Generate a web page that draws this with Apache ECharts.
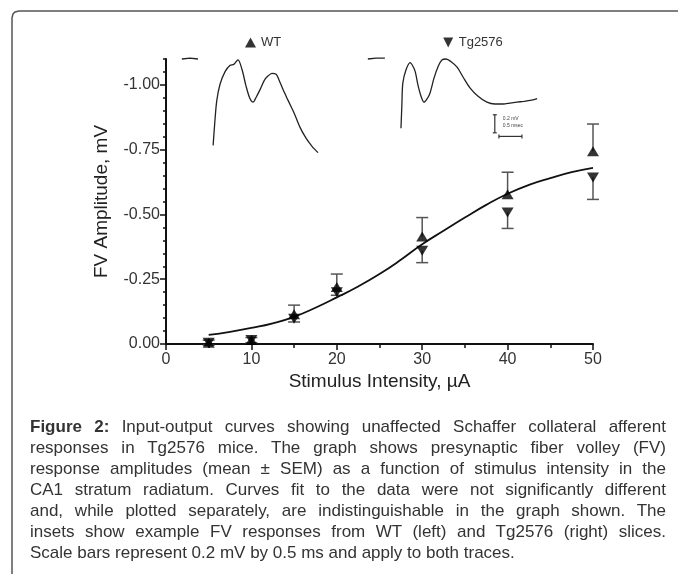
<!DOCTYPE html>
<html>
<head>
<meta charset="utf-8">
<script src="https://cdn.jsdelivr.net/npm/echarts@6/dist/echarts.min.js"></script>
<style>
  body { margin: 0; background: #fff; }
  #wrap { position: relative; width: 678px; height: 574px; overflow: hidden; }
  #fv { position: absolute; left: 0; top: 0; width: 678px; height: 574px; }
  #caption {
    position: absolute; left: 30px; top: 416px; width: 636px;
    font-family: "Liberation Sans", Arial, sans-serif; font-size: 17px;
    line-height: 21px; color: #333;
  }
  #caption div { text-align: justify; text-align-last: justify; white-space: nowrap; }
  #caption div.last { text-align-last: left; }
</style>
</head>
<body>
<div id="wrap">
  <div id="fv"></div>
  <div id="caption">
    <div><b>Figure 2:</b> Input-output curves showing unaffected Schaffer collateral afferent</div>
    <div>responses in Tg2576 mice. The graph shows presynaptic fiber volley (FV)</div>
    <div>response amplitudes (mean ± SEM) as a function of stimulus intensity in the</div>
    <div>CA1 stratum radiatum. Curves fit to the data were not significantly different</div>
    <div>and, while plotted separately, are indistinguishable in the graph shown. The</div>
    <div>insets show example FV responses from WT (left) and Tg2576 (right) slices.</div>
    <div class="last">Scale bars represent 0.2 mV by 0.5 ms and apply to both traces.</div>
  </div>
</div>
<script>
// stimulus intensities (uA)
var intensity = [5, 10, 15, 20, 30, 40, 50];
// FV amplitude mean and SEM (mV)
var wtMean = [-0.005, -0.015, -0.115, -0.22, -0.415, -0.578, -0.744];
var wtSem  = [0.01, 0.01, 0.035, 0.05, 0.073, 0.085, 0.105];
var tgMean = [-0.005, -0.015, -0.097, -0.20, -0.36, -0.508, -0.643];
var tgSem  = [0.01, 0.01, 0.012, 0.012, 0.046, 0.062, 0.085];

// fitted curve
var fitX = [5, 7.5, 10, 12.5, 15, 17.5, 20, 22.5, 25, 27.5, 30, 32.5, 35, 37.5, 40, 42.5, 45, 47.5, 50];
var fitY = [-0.035, -0.047, -0.062, -0.08, -0.105, -0.14, -0.18, -0.222, -0.27, -0.325, -0.385, -0.437, -0.488, -0.537, -0.58, -0.614, -0.64, -0.663, -0.68];

// axis ranges / ticks
var xRange = [0, 50, 10];          // min, max, step
var yRange = [-1.1, 0, 0.05];      // full axis, minor step
var yLabelRange = [-1.0, 0, 0.25]; // labelled part, major step

// inset traces: time (ms), voltage (mV)
var wtBaseT = [0.04, 0.22, 0.39];
var wtBaseV = [-0.10, -0.09, -0.10];
var wtTraceT = [0.72, 0.76, 0.80, 0.87, 0.98, 1.09, 1.17, 1.26, 1.35, 1.43, 1.52, 1.59, 1.65, 1.74, 1.83, 1.91, 2.00, 2.09, 2.15, 2.24, 2.35, 2.48, 2.61, 2.74, 2.87, 3.00];
var wtTraceV = [-1.06, -0.78, -0.56, -0.38, -0.24, -0.17, -0.16, -0.11, -0.22, -0.39, -0.54, -0.58, -0.53, -0.44, -0.34, -0.29, -0.26, -0.27, -0.33, -0.44, -0.56, -0.70, -0.86, -0.98, -1.07, -1.14];
var tgBaseT = [0.04, 0.22, 0.41];
var tgBaseV = [-0.10, -0.09, -0.09];
var tgTraceT = [0.76, 0.78, 0.80, 0.87, 0.96, 1.02, 1.07, 1.13, 1.20, 1.26, 1.33, 1.39, 1.48, 1.57, 1.65, 1.74, 1.85, 1.98, 2.11, 2.26, 2.43, 2.63, 2.80, 2.98, 3.13, 3.28, 3.43, 3.57, 3.72];
var tgTraceV = [-0.87, -0.61, -0.37, -0.22, -0.14, -0.18, -0.24, -0.39, -0.52, -0.58, -0.54, -0.48, -0.31, -0.18, -0.11, -0.10, -0.13, -0.19, -0.30, -0.42, -0.51, -0.58, -0.60, -0.60, -0.59, -0.58, -0.57, -0.56, -0.54];

// scale bar: 0.2 mV by 0.5 ms
var scaleMv = 0.2;
var scaleMs = 0.5;
var scaleAt = [2.8, -0.72];

var FONT = '"Liberation Sans", Arial, sans-serif';

function pairs(a, b) { return a.map(function (v, i) { return [v, b[i]]; }); }

function errItem(params, api) {
  var x = api.value(0), y = api.value(1), e = api.value(2);
  var p0 = api.coord([x, y]), p1 = api.coord([x, e]);
  var st = { stroke: '#555', lineWidth: 1.5 };
  return { type: 'group', children: [
    { type: 'line', shape: { x1: p0[0], y1: p0[1], x2: p1[0], y2: p1[1] }, style: st },
    { type: 'line', shape: { x1: p1[0] - 6, y1: p1[1], x2: p1[0] + 6, y2: p1[1] }, style: st }
  ]};
}

function scaleItem(params, api) {
  var t = api.value(0), v = api.value(1);
  var a = api.coord([t, v]), b = api.coord([t, v - scaleMv]);
  var h0 = api.coord([t + 0.09, v - scaleMv - 0.04]), h1 = api.coord([t + 0.09 + scaleMs, v - scaleMv - 0.04]);
  var st = { stroke: '#333', lineWidth: 1.2 };
  return { type: 'group', children: [
    { type: 'line', shape: { x1: a[0], y1: a[1], x2: b[0], y2: b[1] }, style: st },
    { type: 'line', shape: { x1: a[0] - 2, y1: a[1], x2: a[0] + 2, y2: a[1] }, style: st },
    { type: 'line', shape: { x1: b[0] - 2, y1: b[1], x2: b[0] + 2, y2: b[1] }, style: st },
    { type: 'line', shape: { x1: h0[0], y1: h0[1], x2: h1[0], y2: h1[1] }, style: st },
    { type: 'line', shape: { x1: h0[0], y1: h0[1] - 2, x2: h0[0], y2: h0[1] + 2 }, style: st },
    { type: 'line', shape: { x1: h1[0], y1: h1[1] - 2, x2: h1[0], y2: h1[1] + 2 }, style: st },
    { type: 'text', style: { x: a[0] + 8, y: a[1] + 1, text: scaleMv + ' mV', fontSize: 5, fill: '#444', fontFamily: FONT } },
    { type: 'text', style: { x: a[0] + 8, y: a[1] + 8, text: scaleMs + ' msec', fontSize: 5, fill: '#444', fontFamily: FONT } }
  ]};
}

var chart = echarts.init(document.getElementById('fv'));

function hidden(grid, min, max) {
  return { gridIndex: grid, type: 'value', min: min, max: max, show: false, splitLine: { show: false } };
}

// main plot box: x 166..593, y 59..344 ; labelled y part starts at -1.0
var plotTop = 59, plotH = 285;
var labTop = plotTop + plotH * (yRange[0] - yLabelRange[0]) / yRange[0];

chart.setOption({
  animation: false,
  textStyle: { fontFamily: FONT },
  graphic: [{
    type: 'polyline',
    shape: { points: [[12, 574], [12, 18], [13, 14], [15, 12], [19, 11], [678, 11]] },
    style: { fill: null, stroke: '#555', lineWidth: 1.5 }
  }],
  legend: {
    left: 240, top: 31, itemWidth: 11, itemHeight: 10, itemGap: 162,
    textStyle: { fontSize: 13, color: '#333', fontFamily: FONT },
    data: [
      { name: 'WT', icon: 'triangle' },
      { name: 'Tg2576', icon: 'path://M0,0 L10,0 L5,10 Z' }
    ]
  },
  grid: [
    { left: 166, top: plotTop, width: 427, height: plotH },
    { left: 166, top: labTop, width: 427, height: plotTop + plotH - labTop },
    { left: 180, top: 50, width: 184, height: 108 },
    { left: 366, top: 50, width: 184, height: 108 }
  ],
  xAxis: [
    {
      gridIndex: 0, type: 'value', min: xRange[0], max: xRange[1], interval: xRange[2],
      name: 'Stimulus Intensity, \u00b5A', nameLocation: 'middle', nameGap: 28,
      nameTextStyle: { fontSize: 19, color: '#222' },
      axisLine: { lineStyle: { color: '#111', width: 2 } },
      axisTick: { length: 6, lineStyle: { color: '#111', width: 1.5 } },
      minorTick: { show: true, splitNumber: 2, length: 4, lineStyle: { color: '#111', width: 1.5 } },
      axisLabel: { fontSize: 16, color: '#333', margin: 8 },
      splitLine: { show: false }
    },
    hidden(1, xRange[0], xRange[1]),
    hidden(2, 0, 4),
    hidden(3, 0, 4)
  ],
  yAxis: [
    {
      gridIndex: 0, type: 'value', min: yRange[0], max: yRange[1], interval: yRange[2], inverse: true,
      name: 'FV Amplitude, mV', nameLocation: 'middle', nameGap: 55, nameRotate: 90,
      nameTextStyle: { fontSize: 19, color: '#222' },
      axisLine: { lineStyle: { color: '#111', width: 2 } },
      axisTick: { length: 3, lineStyle: { color: '#111', width: 1.5 } },
      axisLabel: { show: false },
      splitLine: { show: false }
    },
    {
      gridIndex: 1, type: 'value', min: yLabelRange[0], max: yLabelRange[1], interval: yLabelRange[2], inverse: true,
      axisLine: { show: false },
      axisTick: { length: 6, lineStyle: { color: '#111', width: 1.5 } },
      axisLabel: {
        fontSize: 16, color: '#333', margin: 6,
        formatter: function (v) { return v.toFixed(2); }
      },
      splitLine: { show: false }
    },
    hidden(2, -1.2, 0),
    hidden(3, -1.2, 0)
  ],
  series: [
    {
      name: 'fit', type: 'line', smooth: true, showSymbol: false,
      xAxisIndex: 0, yAxisIndex: 0,
      lineStyle: { color: '#111', width: 1.8 },
      data: pairs(fitX, fitY)
    },
    {
      name: 'WT err', type: 'custom', xAxisIndex: 0, yAxisIndex: 0,
      renderItem: errItem,
      data: intensity.map(function (x, i) { return [x, wtMean[i], wtMean[i] - wtSem[i]]; })
    },
    {
      name: 'Tg err', type: 'custom', xAxisIndex: 0, yAxisIndex: 0,
      renderItem: errItem,
      data: intensity.map(function (x, i) { return [x, tgMean[i], tgMean[i] + tgSem[i]]; })
    },
    {
      name: 'WT', type: 'scatter', symbol: 'triangle', symbolSize: [12, 10],
      xAxisIndex: 0, yAxisIndex: 0, z: 5,
      itemStyle: { color: '#000' },
      data: pairs(intensity, wtMean)
    },
    {
      name: 'Tg2576', type: 'scatter', symbol: 'triangle', symbolRotate: 180, symbolSize: [12, 10],
      xAxisIndex: 0, yAxisIndex: 0, z: 5,
      itemStyle: { color: '#000' },
      data: pairs(intensity, tgMean)
    },
    {
      name: 'WT base', type: 'line', xAxisIndex: 2, yAxisIndex: 2, showSymbol: false,
      lineStyle: { color: '#222', width: 1.3 }, data: pairs(wtBaseT, wtBaseV)
    },
    {
      name: 'WT trace', type: 'line', smooth: 0.3, xAxisIndex: 2, yAxisIndex: 2, showSymbol: false,
      lineStyle: { color: '#222', width: 1.3 }, data: pairs(wtTraceT, wtTraceV)
    },
    {
      name: 'Tg base', type: 'line', xAxisIndex: 3, yAxisIndex: 3, showSymbol: false,
      lineStyle: { color: '#222', width: 1.3 }, data: pairs(tgBaseT, tgBaseV)
    },
    {
      name: 'Tg trace', type: 'line', smooth: 0.3, xAxisIndex: 3, yAxisIndex: 3, showSymbol: false,
      lineStyle: { color: '#222', width: 1.3 }, data: pairs(tgTraceT, tgTraceV)
    },
    {
      name: 'scale', type: 'custom', xAxisIndex: 3, yAxisIndex: 3,
      renderItem: scaleItem, data: [scaleAt]
    }
  ]
});
</script>
</body>
</html>
